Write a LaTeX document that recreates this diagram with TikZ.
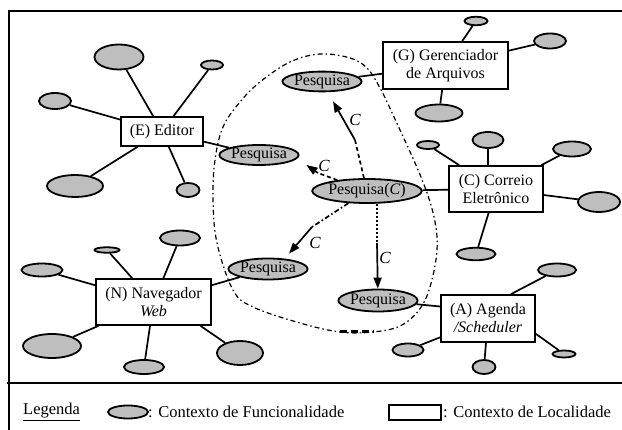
\documentclass[tikz,border=0pt]{standalone}
\usepackage{fontspec}
\setmainfont{Liberation Serif}
\usetikzlibrary{shapes.geometric,arrows.meta}
\definecolor{ctxgray}{RGB}{190,190,190}
\begin{document}
\begin{tikzpicture}[x=1pt,y=-1pt,
  txt/.style={font=\fontsize{16}{18}\selectfont},
  func/.style={ellipse,draw,fill=ctxgray,line width=1.8pt,inner sep=0pt},
  sat/.style args={#1/#2}{func,minimum width=#1pt,minimum height=#2pt},
  srch/.style args={#1/#2}{func,txt,minimum width=#1pt,minimum height=#2pt},
  loc/.style={draw,line width=1.7pt,fill=white,inner sep=0pt,align=center,txt},
  link/.style={line width=1.7pt},
  tipped/.style={line width=1.7pt,-{Triangle[length=11pt,width=8pt]}},
  lbl/.style={font=\fontsize{17}{18}\selectfont\itshape,inner sep=0pt},
  legtxt/.style={font=\fontsize{16.5}{19}\selectfont,inner sep=0pt,anchor=west},
  frame/.style={line width=1.7pt}
]
\useasboundingbox (0,0) rectangle (622,430);

% frame and legend separator
\draw[frame] (9,430) -- (9,11) -- (622,11);
\draw[frame] (7,383) -- (622,383);

% search scope boundary
\draw[line width=1.2pt,dash pattern=on 5pt off 3pt on 1.5pt off 3pt]
  plot[smooth cycle,tension=0.6] coordinates {
    (320,54) (350,58) (367,68) (380,88) (394,117) (421,177) (434,217)
    (437,250) (430,287) (419,310) (400,326) (373,332) (340,332)
    (300,323) (253,307) (233,290) (217,243) (213,200) (215,160)
    (223,127) (240,102) (260,82) (290,62)};
\draw[line width=3pt,dash pattern=on 7pt off 4pt] (340,332) -- (374,332);

% location contexts
\node[loc,minimum width=82pt,minimum height=29pt] (E) at (162,131.5) {(E) Editor};
\node[loc,minimum width=125pt,minimum height=47pt] (G) at (445.5,65.5) {(G) Gerenciador\\de Arquivos};
\node[loc,minimum width=94pt,minimum height=46pt] (C) at (496,189) {(C) Correio\\Eletrônico};
\node[loc,minimum width=94pt,minimum height=47pt] (A) at (488,318.5) {(A) Agenda\\\textit{/Scheduler}};
\node[loc,minimum width=115pt,minimum height=46pt] (N) at (153.5,302) {(N) Navegador\\\textit{Web}};

% functionality contexts around each location
\node[sat=49/25] (e1) at (119,57) {};
\node[sat=22/9] (e2) at (212,65) {};
\node[sat=32/16] (e3) at (55,101) {};
\node[sat=56/22] (e4) at (75,186) {};
\node[sat=23/14] (e5) at (188,190) {};

\node[sat=23/8.5] (g1) at (476,21) {};
\node[sat=32/15] (g2) at (550,41) {};
\node[sat=47/17] (g3) at (439,113) {};

\node[sat=22/8] (c1) at (428,145) {};
\node[sat=31/16] (c2) at (488,140) {};
\node[sat=38/15] (c3) at (572,149) {};
\node[sat=42/20] (c4) at (599,202) {};
\node[sat=39/12.5] (c5) at (476,254) {};

\node[sat=38/13] (a1) at (557,270) {};
\node[sat=31/13] (a2) at (408,350) {};
\node[sat=23/14] (a3) at (484,367) {};
\node[sat=23/7] (a4) at (564,354) {};

\node[sat=41/13] (n1) at (42,270) {};
\node[sat=25/5.5] (n2) at (107,250) {};
\node[sat=40/15] (n3) at (180,238) {};
\node[sat=58/24] (n4) at (52,346) {};
\node[sat=40/14] (n5) at (144,367) {};
\node[sat=46/24] (n6) at (240,353) {};

% search services
\node[srch=66/20] (pe) at (259,155) {Pesquisa};
\node[srch=68/19] (pg) at (322,81.5) {Pesquisa};
\node[srch=92/24] (pC) at (367,191) {Pesquisa(\textit{C})};
\node[srch=70/21] (pn) at (268,269) {Pesquisa};
\node[srch=69/22] (pa) at (378,300.5) {Pesquisa};

% links between locations and their functionalities
\foreach \s in {e1,e2,e3,e4,e5,pe} \draw[link] (\s) -- (E);
\foreach \s in {g1,g2,g3,pg} \draw[link] (\s) -- (G);
\foreach \s in {c1,c3,c4,c5,pC} \draw[link] (\s) -- (C);
\draw[link] (c2) -- (c2 |- C.north);
\foreach \s in {a2,a3} \draw[link] (\s) -- (A);
\draw[link] (a1) -- ([xshift=23pt]A.north);
\draw[link] (a4) -- ([yshift=9pt]A.south east);
\draw[link] (pa) -- ([yshift=12pt]A.west);
\foreach \s in {n1,n2,n3,n4,n5,pn} \draw[link] (\s) -- (N);
\draw[link] (n6) -- ([xshift=47pt]N.south);

% propagation of the search context C
\coordinate (kg) at (355,140);
\coordinate (ke) at (318,173);
\coordinate (kn) at (312,227);
\coordinate (ka) at (377,243);
\draw[link,dash pattern=on 4pt off 3pt] (pC) -- (kg);
\draw[tipped] (kg) -- ([xshift=11pt,yshift=-9pt]pg.south);
\draw[link,dash pattern=on 4pt off 3pt] (pC) -- (ke);
\draw[tipped] (ke) -- ([xshift=7pt,yshift=-10pt]pe.east);
\draw[link,dash pattern=on 5pt off 2.5pt on 1.5pt off 2.5pt] (pC) -- (kn);
\draw[tipped] (kn) -- ([xshift=21pt,yshift=4pt]pn.north);
\draw[link,dash pattern=on 2pt off 2pt] (ka |- pC.south) -- (ka);
\draw[tipped] (ka) -- (pa);

\node[lbl] (lg) at (355,120) {C};
\node[lbl] (le) at (324,166) {C};
\node[lbl] (ln) at (315,243) {C};
\node[lbl] (la) at (385,258) {C};

% legend
\node[legtxt] (leg) at (23,412) {\underline{Legenda}};
\node[sat=40/13] (kf) at (128,412) {};
\node[legtxt] (kft) at (148,412) {: Contexto de Funcionalidade};
\node[draw,line width=1.7pt,minimum width=52pt,minimum height=15pt,inner sep=0pt] (kl) at (415,412.5) {};
\node[legtxt] (klt) at (443,412) {: Contexto de Localidade};
\end{tikzpicture}
\end{document}
